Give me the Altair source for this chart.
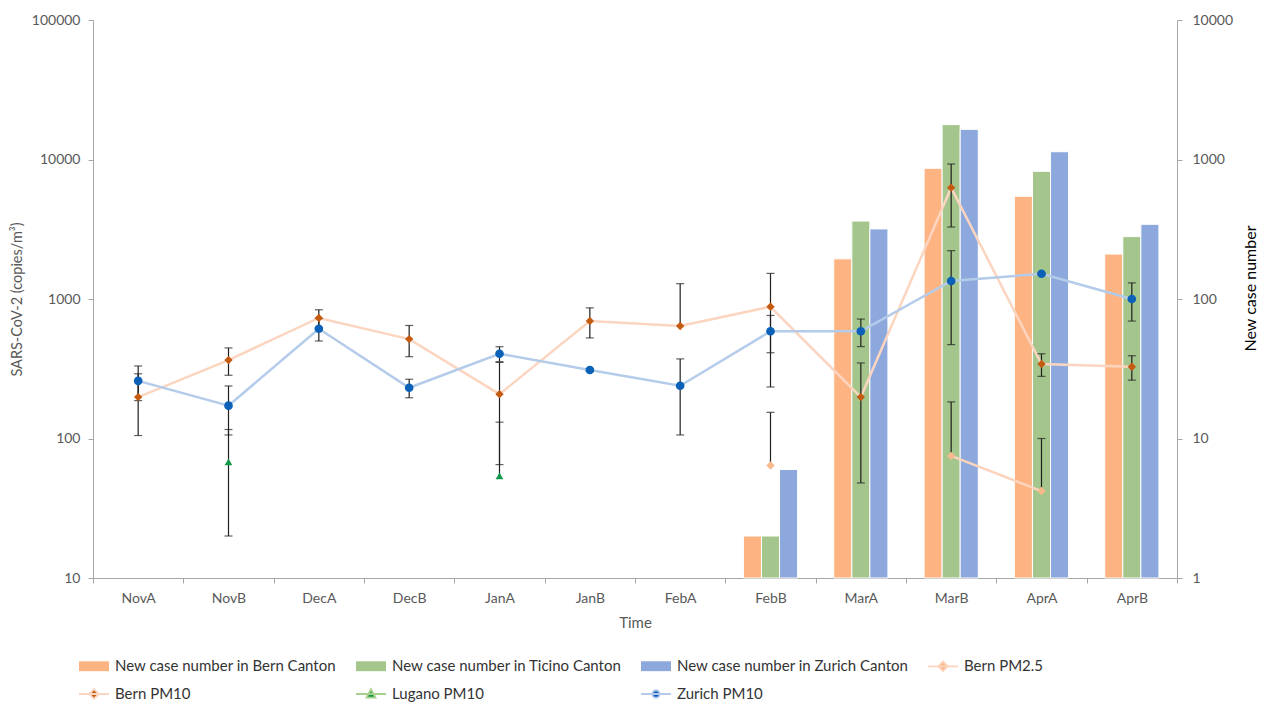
import altair as alt
import pandas as pd

# ---- data -------------------------------------------------------------
periods = ["NovA", "NovB", "DecA", "DecB", "JanA", "JanB",
           "FebA", "FebB", "MarA", "MarB", "AprA", "AprB"]

# new case numbers per canton (right axis)
case_periods = ["FebB", "MarA", "MarB", "AprA", "AprB"]
cases_bern = [2, 194, 865, 545, 210]
cases_ticino = [2, 362, 1778, 823, 280]
cases_zurich = [6, 318, 1645, 1137, 343]

# SARS-CoV-2 concentrations (copies/m3) with error (left axis)
bern_pm25 = [None, None, None, None, None, None, None, 64, None, 75, 42, None]
bern_pm25_err = [None, None, None, None, None, None, None, 90, None, 108, 58, None]
bern_pm10 = [198, 365, 731, 516, 208, 695, 640, 880, 198, 6280, 342, 327]
bern_pm10_err = [93, 81, 106, 130, 143, 169, 648, 646, 150, 3000, 63, 65]
lugano_pm10 = [None, 68, None, None, 54, None, None, None, None, None, None, None]
lugano_pm10_err = [None, 48, None, None, 77, None, None, None, None, None, None, None]
zurich_pm10 = [259, 172, 612, 231, 405, 310, 239, 587, 587, 1346, 1517, 1000]
zurich_pm10_err = [72, 66, 112, 35, 50, 8, 133, 175, 131, 875, 20, 305]

bar_names = ["New case number in Bern Canton",
             "New case number in Ticino Canton",
             "New case number in Zurich Canton"]
line_names = ["Bern PM2.5", "Bern PM10", "Lugano PM10", "Zurich PM10"]
series_order = bar_names + line_names

fill_colors = ["#FDB482", "#A4C68C", "#8CA8DC",
               "#F9B98D", "#C55A11", "#12994A", "#0B61B8"]
line_colors = {"Bern PM2.5": "#FCD3BC", "Bern PM10": "#FCD5C0",
               "Lugano PM10": "#A9D18E", "Zurich PM10": "#B4CBEA"}
marker_shapes = {"Bern PM2.5": "diamond", "Bern PM10": "diamond",
                 "Lugano PM10": "triangle-up", "Zurich PM10": "circle"}
marker_sizes = {"Bern PM2.5": 70, "Bern PM10": 70,
                "Lugano PM10": 60, "Zurich PM10": 75}

# ---- tables -----------------------------------------------------------
bars_df = pd.DataFrame(
    [{"period": p, "series": name, "cases": v}
     for name, vals in zip(bar_names, [cases_bern, cases_ticino, cases_zurich])
     for p, v in zip(case_periods, vals)]
)

conc = {"Bern PM2.5": (bern_pm25, bern_pm25_err),
        "Bern PM10": (bern_pm10, bern_pm10_err),
        "Lugano PM10": (lugano_pm10, lugano_pm10_err),
        "Zurich PM10": (zurich_pm10, zurich_pm10_err)}

rows = []
for name, (vals, errs) in conc.items():
    for p, v, e in zip(periods, vals, errs):
        row = {"period": p, "series": name, "value": v,
               "high": None, "low": None, "has_low": False}
        if v is not None:
            row["high"] = v + e
            # a lower bar that would cross zero cannot be shown on a log axis
            row["has_low"] = (v - e) > 0
            row["low"] = v - e if row["has_low"] else v
        rows.append(row)
conc_df = pd.DataFrame(rows)
valid_df = conc_df.dropna(subset=["value"])

caps_df = pd.concat([
    valid_df.assign(cap=valid_df["high"])[["period", "cap"]],
    valid_df[valid_df["has_low"]].assign(cap=lambda d: d["low"])[["period", "cap"]],
])

# ---- shared encodings -------------------------------------------------
FONT = "Lato"
AXIS_GREY = "#A6A6A6"
TEXT_GREY = "#595959"

x_enc = alt.X(
    "period:N", sort=periods,
    scale=alt.Scale(domain=periods, paddingInner=0, paddingOuter=0),
    axis=alt.Axis(labelAngle=0, tickBand="extent", tickSize=5, tickColor=AXIS_GREY,
                  domainColor=AXIS_GREY, labelPadding=8, labelFont=FONT,
                  labelFontSize=14, labelColor=TEXT_GREY, titleFont=FONT,
                  titleFontSize=15, titleColor=TEXT_GREY, titleFontWeight="normal",
                  titleX=542, titleY=44, titleBaseline="middle", grid=False),
    title="Time",
)

left_scale = alt.Scale(type="log", domain=[10, 100000], nice=False)
left_axis = alt.Axis(values=[10, 100, 1000, 10000, 100000], format="d",
                     orient="left", tickSize=5, tickColor=AXIS_GREY,
                     domainColor=AXIS_GREY, labelPadding=8, labelFont=FONT,
                     labelFontSize=14, labelColor=TEXT_GREY, titleFont=FONT,
                     titleFontSize=14.5, titleColor=TEXT_GREY, titleFontWeight="normal",
                     titleAngle=270, titleBaseline="middle", titleAlign="center",
                     titleX=-76, titleY=279, grid=False)
left_title = "SARS-CoV-2 (copies/m³)"


def left_y(field):
    return alt.Y(field, type="quantitative", scale=left_scale, axis=left_axis,
                 title=left_title)


diamond = "M0,-0.32 L0.32,0 L0,0.32 L-0.32,0 Z"
triangle = "M0,-0.32 L0.3,0.24 L-0.3,0.24 Z"
circle = "M0.25,0 A0.25,0.25 0 1,1 -0.25,0 A0.25,0.25 0 1,1 0.25,0 Z"
swatch = "M-1,-0.33 L1,-0.33 L1,0.33 L-1,0.33 Z"
stub = "M-1,0 L1,0 "

symbol_expr = (
    "indexof(['Bern PM2.5','Bern PM10'], datum.value) >= 0 ? '" + stub + diamond + "' : "
    "datum.value == 'Lugano PM10' ? '" + stub + triangle + "' : "
    "datum.value == 'Zurich PM10' ? '" + stub + circle + "' : '" + swatch + "'"
)
stroke_expr = (
    "datum.value == 'Bern PM2.5' ? '" + line_colors["Bern PM2.5"] + "' : "
    "datum.value == 'Bern PM10' ? '" + line_colors["Bern PM10"] + "' : "
    "datum.value == 'Lugano PM10' ? '" + line_colors["Lugano PM10"] + "' : "
    "datum.value == 'Zurich PM10' ? '" + line_colors["Zurich PM10"] + "' : 'transparent'"
)

legend = alt.Legend(
    title=None, orient="none", legendX=-15, legendY=630, direction="horizontal",
    columns=4, symbolType=alt.ExprRef(expr=symbol_expr), symbolSize=900,
    symbolStrokeColor=alt.ExprRef(expr=stroke_expr), symbolStrokeWidth=1.8,
    symbolOpacity=1, labelFont=FONT, labelFontSize=15, labelColor="#333333",
    labelOffset=5, columnPadding=15, rowPadding=3, padding=0, labelLimit=400,
)
color_scale = alt.Scale(domain=series_order, range=fill_colors)


def color_enc():
    return alt.Color("series:N", scale=color_scale, legend=legend)


# ---- layers -----------------------------------------------------------
bars = alt.Chart(bars_df).mark_bar(stroke="white", strokeWidth=1).encode(
    x=x_enc,
    xOffset=alt.XOffset("series:N", sort=bar_names,
                        scale=alt.Scale(domain=bar_names, paddingInner=0,
                                        paddingOuter=1)),
    y=alt.Y("cases:Q", scale=alt.Scale(type="log", domain=[1, 10000], nice=False),
            axis=alt.Axis(values=[1, 10, 100, 1000, 10000], format="d",
                          orient="right", tickSize=5, tickColor=AXIS_GREY,
                          domainColor=AXIS_GREY, labelPadding=10, labelFont=FONT,
                          labelFontSize=14, labelColor=TEXT_GREY, titleFont=FONT,
                          titleFontSize=16, titleColor="#000000",
                          titleFontWeight="normal", titleAngle=270,
                          titleBaseline="middle", titleAlign="center",
                          titleX=73, titleY=268, grid=False),
            title="New case number"),
    y2=alt.datum(1),
    color=color_enc(),
)

line_layers = []
for name in line_names:
    sub = conc_df[conc_df["series"] == name]
    line_layers.append(
        alt.Chart(sub).mark_line(strokeWidth=2.5).encode(
            x=x_enc, y=left_y("value"), color=alt.value(line_colors[name]))
    )

whiskers = alt.Chart(valid_df).mark_rule(color="#1F1F1F", strokeWidth=1.2).encode(
    x=x_enc, y=left_y("high"), y2="low")
caps = alt.Chart(caps_df).mark_tick(color="#1F1F1F", thickness=1.2, size=8).encode(
    x=x_enc, y=left_y("cap"))

point_layers = []
for name in line_names:
    sub = valid_df[valid_df["series"] == name]
    point_layers.append(
        alt.Chart(sub).mark_point(shape=marker_shapes[name], filled=True, opacity=1,
                                  size=marker_sizes[name]).encode(
            x=x_enc, y=left_y("value"), color=color_enc())
    )

concentration = alt.layer(*line_layers, whiskers, caps, *point_layers)

chart = (
    alt.layer(bars, concentration)
    .resolve_scale(y="independent")
    .properties(width=1084, height=558,
                autosize=alt.AutoSizeParams(type="none"),
                padding={"left": 93, "top": 20, "right": 85, "bottom": 127},
                background="white")
    .configure_view(stroke=None)
)

chart.save("out.html", embed_options={"renderer": "svg", "actions": False})
